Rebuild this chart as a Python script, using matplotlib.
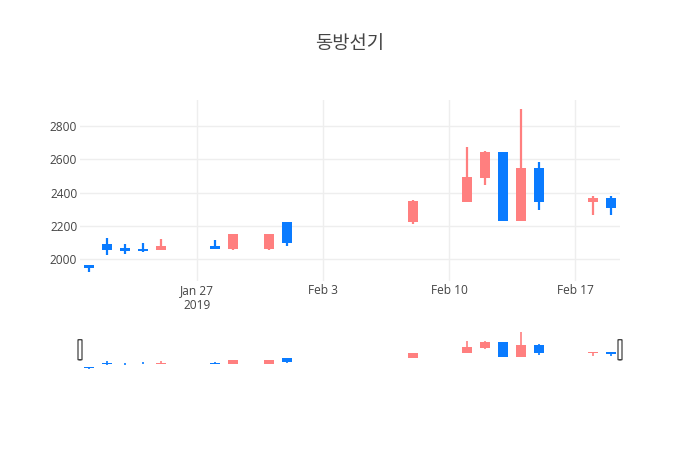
import matplotlib
matplotlib.use("Agg")
import matplotlib.pyplot as plt
import matplotlib.dates as mdates
from matplotlib.patches import FancyBboxPatch
import numpy as np
import pandas as pd

# 동방선기 일봉 데이터
dates = ["2019-01-21", "2019-01-22", "2019-01-23", "2019-01-24", "2019-01-25",
         "2019-01-28", "2019-01-29", "2019-01-31", "2019-02-01", "2019-02-08",
         "2019-02-11", "2019-02-12", "2019-02-13", "2019-02-14", "2019-02-15",
         "2019-02-18", "2019-02-19"]
open_ = [1965, 2095, 2070, 2065, 2055, 2080, 2065, 2065, 2225, 2225, 2345, 2485, 2640, 2230, 2550, 2345, 2370]
high = [1965, 2130, 2095, 2100, 2125, 2115, 2150, 2150, 2225, 2355, 2670, 2650, 2640, 2900, 2585, 2380, 2380]
low = [1925, 2025, 2035, 2045, 2055, 2060, 2055, 2055, 2080, 2210, 2345, 2445, 2230, 2230, 2295, 2265, 2265]
close = [1950, 2055, 2050, 2050, 2080, 2065, 2150, 2150, 2100, 2350, 2495, 2640, 2230, 2550, 2345, 2370, 2310]

tick_dates = ["2019-01-27", "2019-02-03", "2019-02-10", "2019-02-17"]
tick_labels = ["Jan 27\n2019", "Feb 3", "Feb 10", "Feb 17"]

UP = "#FF7F7F"
DOWN = "#0A7BFF"
TXT = "#444444"

x = mdates.date2num(pd.to_datetime(dates))
o = np.array(open_, float)
h = np.array(high, float)
l = np.array(low, float)
c = np.array(close, float)
colors = [UP if cc >= oo else DOWN for oo, cc in zip(o, c)]


def candles(ax, lw):
    ax.vlines(x, l, h, colors=colors, linewidth=lw, zorder=2)
    bottom = np.minimum(o, c)
    height = np.maximum(np.abs(c - o), 4)
    ax.bar(x, height, bottom=bottom, width=0.6, color=colors, linewidth=0, zorder=3)


plt.rcParams["font.family"] = ["Open Sans", "Noto Sans CJK KR", "DejaVu Sans"]

fig = plt.figure(figsize=(7, 4.5), dpi=100)
W, H = 700, 450

ax = fig.add_axes([80 / W, 1 - 281 / H, 540 / W, 181 / H])
candles(ax, 1.6)
xmin = mdates.date2num(pd.Timestamp("2019-01-21")) - 0.5
xmax = mdates.date2num(pd.Timestamp("2019-02-19")) + 0.5
ax.set_xlim(xmin, xmax)
ax.set_ylim(1871, 2954)
ax.set_yticks([2000, 2200, 2400, 2600, 2800])
ax.set_xticks(mdates.date2num(pd.to_datetime(tick_dates)))
ax.set_xticklabels(tick_labels, linespacing=1.2)
ax.grid(True, color="#eeeeee", linewidth=1, zorder=0)
ax.set_axisbelow(True)
for s in ax.spines.values():
    s.set_visible(False)
ax.tick_params(length=0, labelsize=8.6, labelcolor=TXT, pad=2)

# range slider
sl = fig.add_axes([80 / W, 80 / H, 540 / W, 40.5 / H])
candles(sl, 1.2)
sl.set_xlim(xmin, xmax)
sl.set_ylim(1899, 2966)
sl.set_xticks([])
sl.set_yticks([])
for s in sl.spines.values():
    s.set_visible(False)
for hx in (0.0, 1.0):
    handle = FancyBboxPatch((hx - 2 / 540, 0.25), 4 / 540, 0.5,
                            boxstyle="round,pad=0,rounding_size=0.004",
                            transform=sl.transAxes, facecolor="white",
                            edgecolor=TXT, linewidth=0.9, clip_on=False, zorder=5)
    sl.add_patch(handle)

fig.text(0.5, 1 - 43 / H, "동방선기", ha="center", va="center", fontsize=13.5,
         color=TXT, family=["Noto Sans CJK KR", "DejaVu Sans"])

fig.savefig("out.png", dpi=100, facecolor="white")
